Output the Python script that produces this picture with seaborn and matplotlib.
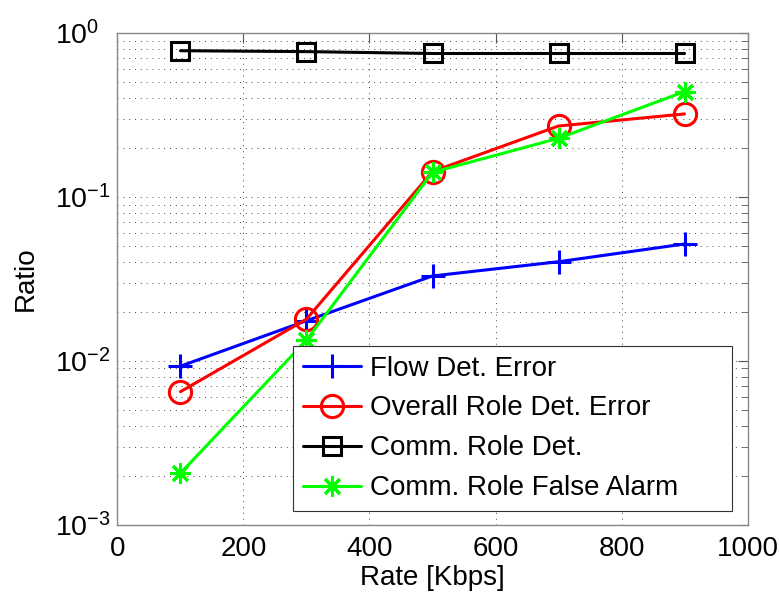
import numpy as np
import pandas as pd
import matplotlib
matplotlib.use("Agg")
import matplotlib.pyplot as plt
import seaborn as sns

rate = [100, 300, 500, 700, 900]
flow_det_error = [0.0093, 0.0176, 0.033, 0.0403, 0.0517]
overall_role_error = [0.0065, 0.018, 0.143, 0.271, 0.321]
comm_role_det = [0.78, 0.77, 0.75, 0.75, 0.75]
comm_role_false_alarm = [0.00207, 0.0134, 0.1415, 0.228, 0.439]

labels = ["Flow Det. Error", "Overall Role Det. Error", "Comm. Role Det.", "Comm. Role False Alarm"]
series = [flow_det_error, overall_role_error, comm_role_det, comm_role_false_alarm]
colors = ["#0000ff", "#ff0000", "#000000", "#00ff00"]
markers = ["+", "o", "s", (8, 2, 0)]
msizes = [17, 16, 13, 15]

y_ticks = [1e-3, 1e-2, 1e-1, 1]
y_ticklabels = [r"$10^{-3}$", r"$10^{-2}$", r"$10^{-1}$", r"$10^{0}$"]
x_ticks = [0, 200, 400, 600, 800, 1000]

sns.set_style("white")
plt.rcParams['font.family'] = ['Liberation Sans', 'DejaVu Sans']
plt.rcParams['mathtext.fontset'] = 'custom'
plt.rcParams['mathtext.rm'] = 'Liberation Sans'
plt.rcParams['mathtext.it'] = 'Liberation Sans'
plt.rcParams['text.color'] = 'black'
plt.rcParams['axes.labelcolor'] = 'black'

fig = plt.figure(figsize=(7.79, 5.98), dpi=100)
ax = fig.add_axes([0.1508, 0.1221, 0.8088, 0.8227])

for lab, vals, c, m, ms in zip(labels, series, colors, markers, msizes):
    df = pd.DataFrame({"rate": rate, "val": vals})
    sns.lineplot(data=df, x="rate", y="val", ax=ax, color=c, marker=m,
                 markersize=ms, markerfacecolor="none", markeredgecolor=c,
                 markeredgewidth=2.2, linewidth=2.2, label=lab)

ax.set_yscale("log")
ax.set_xlim(0, 1000)
ax.set_ylim(1e-3, 1)
ax.set_xticks(x_ticks)
ax.set_yticks(y_ticks)
ax.set_yticklabels(y_ticklabels, ha="left")

ax.grid(True, which="major", axis="both", linestyle=(0, (1, 5)), color="#444444", linewidth=0.7)
ax.grid(True, which="minor", axis="y", linestyle=(0, (1, 5)), color="#444444", linewidth=0.7)

for s in ax.spines.values():
    s.set_color("#888888")
    s.set_linewidth(1.0)

ax.tick_params(axis="both", which="both", direction="in", top=True, right=True,
               colors="#555555", labelcolor="black", labelsize=20)
ax.tick_params(axis="y", which="major", labelsize=20.5, pad=45)
ax.tick_params(axis="both", which="major", length=7)
ax.tick_params(axis="y", which="minor", length=4)
ax.tick_params(axis="x", pad=8)

ax.set_xlabel("Rate [Kbps]", fontsize=20, labelpad=2, color="black")
ax.set_ylabel("Ratio", fontsize=20, labelpad=12, color="black")

leg = ax.legend(loc="lower left", bbox_to_anchor=(0.279, 0.0285, 0.697, 0.34),
                mode="expand", fontsize=20, frameon=True, fancybox=False,
                handlelength=2.1, handletextpad=0.3, labelspacing=0.5,
                borderpad=0.35, borderaxespad=0.0)
leg.get_frame().set_edgecolor("#333333")
leg.get_frame().set_linewidth(0.8)
leg.get_frame().set_alpha(1)
for t in leg.get_texts():
    t.set_color("black")

fig.savefig("out.png", dpi=100)
